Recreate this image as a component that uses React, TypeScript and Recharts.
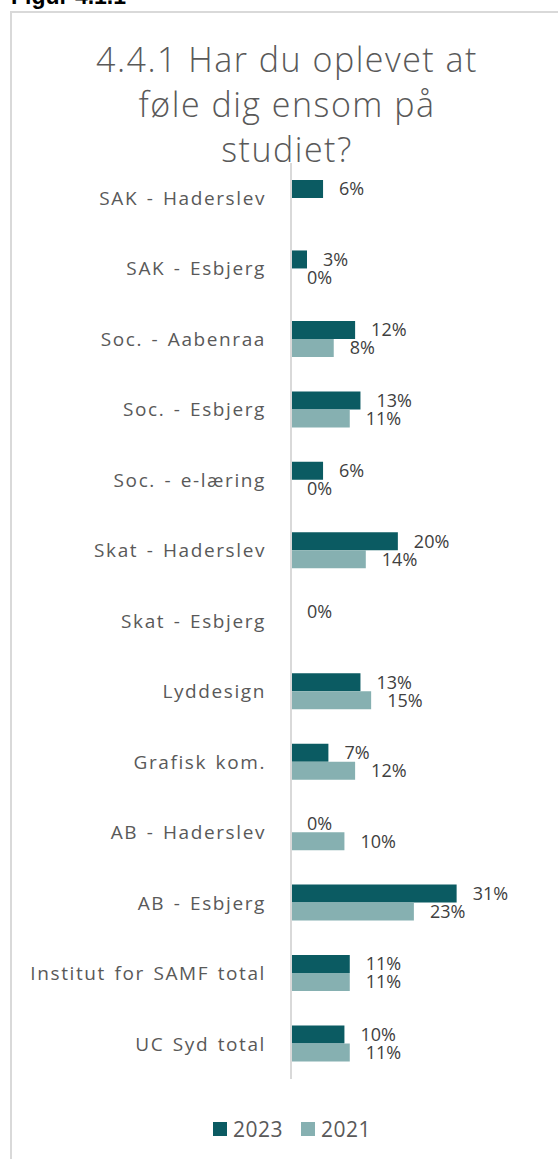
import React from "react";
import { BarChart, Bar, XAxis, YAxis, Legend, LabelList } from "recharts";

const categories = [
  "SAK - Haderslev",
  "SAK - Esbjerg",
  "Soc. - Aabenraa",
  "Soc. - Esbjerg",
  "Soc. - e-læring",
  "Skat - Haderslev",
  "Skat - Esbjerg",
  "Lyddesign",
  "Grafisk kom.",
  "AB - Haderslev",
  "AB - Esbjerg",
  "Institut for SAMF total",
  "UC Syd total",
];
const values2023: (number | null)[] = [6, 3, 12, 13, 6, 20, 0, 13, 7, 0, 31, 11, 10];
const values2021: (number | null)[] = [null, 0, 8, 11, 0, 14, null, 15, 12, 10, 23, 11, 11];
const seriesNames = ["2023", "2021"];

const data = categories.map((c, i) => ({ name: c, y2023: values2023[i], y2021: values2021[i] }));

const FONT = "'Open Sans', Lato, sans-serif";
const DARK = "#0b5b62";
const LIGHT = "#86b0b1";
const TEXT = "#595959";
const colors = [DARK, LIGHT];

const fmt = (v: any) => (v === null || v === undefined ? "" : `${v}%`);
const minSize = (v: any) => (v === 0 ? 0.01 : 0);

const LegendContent = () => (
  <div style={{ display: "flex", justifyContent: "center", gap: 18, fontFamily: FONT, fontSize: 21, color: TEXT, letterSpacing: 0.5 }}>
    {seriesNames.map((n, i) => (
      <div key={n} style={{ display: "flex", alignItems: "center", gap: 6 }}>
        <span style={{ display: "inline-block", width: 14, height: 14, background: colors[i] }} />
        <span>{n}</span>
      </div>
    ))}
  </div>
);

export default function App() {
  return (
    <div style={{ position: "absolute", left: 0, top: 0, width: 558, height: 1159, overflow: "hidden", background: "#fff" }}>
      <div style={{ position: "absolute", left: 11, top: -15.5, fontFamily: "Arial, 'Liberation Sans', sans-serif", fontWeight: 700, fontSize: 23, lineHeight: "23px", color: "#000", whiteSpace: "nowrap" }}>
        Figur 4.1.1
      </div>
      <div style={{ position: "absolute", left: 10, top: 11, width: 600, height: 1200, border: "2px solid #d9d9d9", boxSizing: "border-box" }} />
      <div style={{ position: "absolute", left: 10, top: 37, width: 554, textAlign: "center", fontFamily: FONT, fontWeight: 300, fontSize: 34, lineHeight: "45px", color: TEXT, letterSpacing: 1.5 }}>
        4.4.1 Har du oplevet at<br />føle dig ensom på<br />studiet?
      </div>
      <div style={{ position: "absolute", left: 0, top: 0 }}>
        <BarChart
          width={558}
          height={1159}
          data={data}
          layout="vertical"
          margin={{ top: 163, right: 80, bottom: 52, left: 0 }}
          barGap={0}
          barSize={18}
        >
          <XAxis type="number" domain={[0, 35]} hide />
          <YAxis
            type="category"
            dataKey="name"
            width={291}
            axisLine={{ stroke: "#d9d9d9", strokeWidth: 2 }}
            tickLine={false}
            tickSize={0}
            tickMargin={25}
            tick={{ fill: TEXT, fontSize: 19, fontFamily: FONT, style: { letterSpacing: 1.6, wordSpacing: 2 } }}
            interval={0}
          />
          <Legend verticalAlign="bottom" wrapperStyle={{ bottom: 16, left: 0, width: 584 }} content={<LegendContent />} />
          <Bar dataKey="y2023" name="2023" fill={DARK} minPointSize={minSize} isAnimationActive={false}>
            <LabelList dataKey="y2023" position="right" offset={16} formatter={fmt} style={{ fill: "#404040", fontSize: 18, fontFamily: FONT }} />
          </Bar>
          <Bar dataKey="y2021" name="2021" fill={LIGHT} minPointSize={minSize} isAnimationActive={false}>
            <LabelList dataKey="y2021" position="right" offset={16} formatter={fmt} style={{ fill: "#404040", fontSize: 18, fontFamily: FONT }} />
          </Bar>
        </BarChart>
      </div>
    </div>
  );
}
